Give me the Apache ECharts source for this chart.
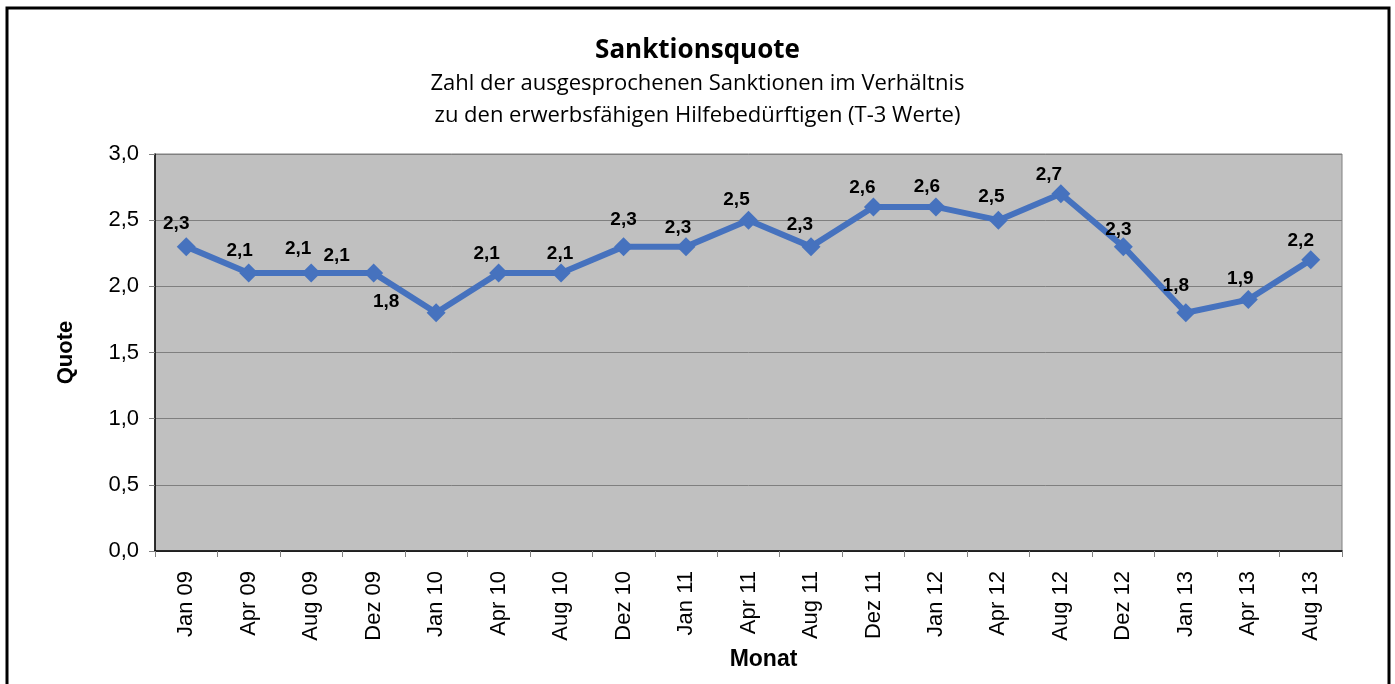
<!DOCTYPE html>
<html>
<head>
<meta charset="utf-8">
<title>Sanktionsquote</title>
<script src="https://cdn.jsdelivr.net/npm/echarts@6/dist/echarts.min.js"></script>
<style>
  html, body { margin: 0; padding: 0; background: #fff; }
  #chart { width: 1395px; height: 684px; }
</style>
</head>
<body>
<div id="chart"></div>
<script>
// Monate (T-3 Werte)
const months = ['Jan 09', 'Apr 09', 'Aug 09', 'Dez 09', 'Jan 10', 'Apr 10', 'Aug 10', 'Dez 10',
  'Jan 11', 'Apr 11', 'Aug 11', 'Dez 11', 'Jan 12', 'Apr 12', 'Aug 12', 'Dez 12',
  'Jan 13', 'Apr 13', 'Aug 13']
const quote = [2.3, 2.1, 2.1, 2.1, 1.8, 2.1, 2.1, 2.3, 2.3, 2.5, 2.3, 2.6, 2.6, 2.5, 2.7, 2.3, 1.8, 1.9, 2.2]
const yTicks = [0, 0.5, 1, 1.5, 2, 2.5, 3]

// wo die Beschriftung neben dem Punkt sitzt (wie im Excel-Original)
const labelShift = [
  [-10, -23], [-9, -22], [-13, -24], [-37, -17], [-50, -11], [-12, -19], [-1, -19],
  [0, -27], [-8, -19], [-12, -20], [-11, -22], [-11, -19], [-9, -20], [-7, -23],
  [-12, -19], [-5, -17], [-10, -27], [-8, -21], [-10, -19]
]

const fmt = v => v.toFixed(1).replace('.', ',')

let chart = echarts.init(document.getElementById('chart'))
chart.setOption({
  animation: false,
  title: {
    text: 'Sanktionsquote',
    subtext: 'Zahl der ausgesprochenen Sanktionen im Verhältnis\nzu den erwerbsfähigen Hilfebedürftigen (T-3 Werte)',
    left: 'center',
    top: 33,
    itemGap: 4,
    textStyle: {
      fontFamily: 'Open Sans',
      fontSize: 26,
      fontWeight: 'bold',
      color: '#000',
    },
    subtextStyle: {
      fontFamily: 'Open Sans',
      fontSize: 22,
      lineHeight: 32,
      color: '#000',
    },
  },
  graphic: [
    {
      type: 'rect',
      shape: { x: 7, y: 8, width: 1382, height: 700 },
      style: { fill: 'none', stroke: '#000', lineWidth: 3 },
      silent: true,
    },
  ],
  grid: {
    left: 155,
    right: 53,
    top: 154,
    bottom: 133,
    show: true,
    backgroundColor: '#C0C0C0',
    borderColor: '#808080',
    borderWidth: 1,
  },
  xAxis: {
    type: 'category',
    data: months,
    boundaryGap: true,
    name: 'Monat',
    nameLocation: 'middle',
    nameGap: 94,
    nameTextStyle: {
      fontFamily: 'Liberation Sans',
      fontSize: 23,
      fontWeight: 'bold',
      color: '#000',
      padding: [0, 0, 0, 30],
    },
    axisLine: { lineStyle: { color: '#000', width: 1.5 } },
    axisTick: { show: true, length: 6, lineStyle: { color: '#808080' } },
    axisLabel: {
      rotate: 90,
      margin: 20,
      interval: 0,
      fontFamily: 'Liberation Sans',
      fontSize: 22,
      color: '#000',
    },
  },
  yAxis: {
    type: 'value',
    min: yTicks[0],
    max: yTicks[yTicks.length - 1],
    interval: 0.5,
    name: 'Quote',
    nameLocation: 'middle',
    nameGap: 78,
    nameTextStyle: {
      fontFamily: 'Liberation Sans',
      fontSize: 22,
      fontWeight: 'bold',
      color: '#000',
    },
    axisLine: { show: true, lineStyle: { color: '#000', width: 1.5 } },
    axisTick: { show: true, length: 6, lineStyle: { color: '#808080' } },
    axisLabel: {
      margin: 16,
      fontFamily: 'Liberation Sans',
      fontSize: 22,
      color: '#000',
      formatter: v => fmt(v),
    },
    splitLine: { lineStyle: { color: '#7f7f7f', width: 1 } },
  },
  series: [
    {
      name: 'Quote',
      type: 'line',
      symbol: 'diamond',
      symbolSize: 19,
      itemStyle: { color: '#4672BE' },
      lineStyle: { color: '#4672BE', width: 6 },
      data: quote.map((v, i) => ({
        value: v,
        label: { offset: labelShift[i] },
      })),
      label: {
        show: true,
        position: 'inside',
        fontFamily: 'Liberation Sans',
        fontSize: 19,
        fontWeight: 'bold',
        color: '#000',
        formatter: p => fmt(p.value),
      },
      z: 3,
    },
  ],
})
</script>
</body>
</html>
